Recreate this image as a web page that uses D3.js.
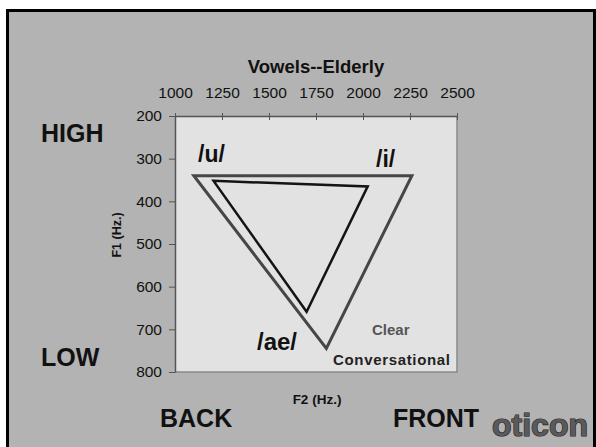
<!DOCTYPE html>
<html>
<head>
<meta charset="utf-8">
<script src="https://cdn.jsdelivr.net/npm/d3@7"></script>
<style>
  html, body { margin: 0; padding: 0; background: #fff; }
  svg { display: block; font-family: "Liberation Sans", Arial, sans-serif; }
</style>
</head>
<body>
<div id="chart"></div>
<script>
// --- data ---
const f2Ticks = [1000, 1250, 1500, 1750, 2000, 2250, 2500];
const f1Ticks = [200, 300, 400, 500, 600, 700, 800];
const vowels = ["/u/", "/i/", "/ae/"];
const clearF2 = [1100, 2260, 1805];
const clearF1 = [340, 340, 745];
const convF2 = [1205, 2025, 1700];
const convF1 = [352, 365, 659];
const seriesNames = ["Clear", "Conversational"];

document.addEventListener("DOMContentLoaded", () => {
  const W = 596, H = 447;
  const svg = d3.select("#chart").append("svg")
    .attr("width", W).attr("height", H);

  // slide frame
  svg.append("rect")
    .attr("x", 7.5).attr("y", 10.5)
    .attr("width", 587).attr("height", 450)
    .attr("fill", "#b3b3b3")
    .attr("stroke", "#000").attr("stroke-width", 3);

  const x = d3.scaleLinear().domain([1000, 2500]).range([175, 457]);
  const y = d3.scaleLinear().domain([200, 800]).range([116, 372]);

  // plot area
  svg.append("rect")
    .attr("x", x(1000)).attr("y", y(200))
    .attr("width", x(2500) - x(1000)).attr("height", y(800) - y(200))
    .attr("fill", "#e2e2e2");
  svg.append("path")
    .attr("d", `M${x(2500)},${y(200)}V${y(800)}H${x(1000)}`)
    .attr("fill", "none").attr("stroke", "#8a8a8a").attr("stroke-width", 1.5);

  // top axis (F2)
  const gx = svg.append("g")
    .attr("transform", `translate(0,${y(200)})`)
    .call(d3.axisTop(x).tickValues(f2Ticks).tickSizeOuter(0).tickFormat(d3.format("d")));
  gx.select(".domain").attr("stroke", "#555").attr("stroke-width", 1.5);
  gx.selectAll(".tick line").attr("y1", 4).attr("y2", -3).attr("stroke", "#555");
  gx.selectAll(".tick text")
    .attr("y", -18).attr("dy", 0)
    .attr("font-size", 15.5).attr("fill", "#111")
    .style("font-family", "'Liberation Sans', Arial, sans-serif");

  // left axis (F1)
  const gy = svg.append("g")
    .attr("transform", `translate(${x(1000)},0)`)
    .call(d3.axisLeft(y).tickValues(f1Ticks).tickSizeInner(6).tickSizeOuter(0).tickPadding(7));
  gy.select(".domain").attr("stroke", "#555").attr("stroke-width", 1.5);
  gy.selectAll(".tick line").attr("stroke", "#555");
  gy.selectAll(".tick text")
    .attr("font-size", 15.5).attr("fill", "#111")
    .style("font-family", "'Liberation Sans', Arial, sans-serif");

  // triangles
  const tri = (f2, f1) => f2.map((v, i) => [x(v), y(f1[i])]);
  const line = d3.line().curve(d3.curveLinearClosed);
  svg.append("path")
    .attr("d", line(tri(clearF2, clearF1)))
    .attr("fill", "none").attr("stroke", "#464646")
    .attr("stroke-width", 3).attr("stroke-linejoin", "miter");
  svg.append("path")
    .attr("d", line(tri(convF2, convF1)))
    .attr("fill", "none").attr("stroke", "#141414")
    .attr("stroke-width", 2.5).attr("stroke-linejoin", "miter");

  // vowel labels
  const vowelPos = [[198, 162], [376, 167], [257, 350]];
  svg.selectAll("text.vowel")
    .data(vowels)
    .enter().append("text")
    .attr("class", "vowel")
    .attr("x", (d, i) => vowelPos[i][0])
    .attr("y", (d, i) => vowelPos[i][1])
    .attr("font-size", (d, i) => (i === 2 ? 24 : 23))
    .attr("font-weight", "bold").attr("fill", "#111")
    .text(d => d);

  // series labels
  svg.append("text")
    .attr("x", 372).attr("y", 335)
    .attr("font-size", 15).attr("font-weight", "bold").attr("fill", "#555")
    .text(seriesNames[0]);
  svg.append("text")
    .attr("x", 333).attr("y", 365)
    .attr("font-size", 15).attr("font-weight", "bold").attr("fill", "#222")
    .attr("textLength", 117)
    .text(seriesNames[1]);

  // title and axis titles
  svg.append("text")
    .attr("x", 316).attr("y", 73)
    .attr("text-anchor", "middle")
    .attr("font-size", 18.5).attr("font-weight", "bold").attr("fill", "#111")
    .text("Vowels--Elderly");
  svg.append("text")
    .attr("x", 317).attr("y", 404)
    .attr("text-anchor", "middle")
    .attr("font-size", 13.5).attr("font-weight", "bold").attr("fill", "#111")
    .text("F2 (Hz.)");
  svg.append("text")
    .attr("transform", "translate(121,235) rotate(-90)")
    .attr("text-anchor", "middle")
    .attr("font-size", 12.5).attr("font-weight", "bold").attr("fill", "#111")
    .text("F1 (Hz.)");

  // side captions
  const caps = [
    ["HIGH", 41, 142], ["LOW", 41, 366], ["BACK", 160, 427], ["FRONT", 393, 427]
  ];
  svg.selectAll("text.cap")
    .data(caps)
    .enter().append("text")
    .attr("class", "cap")
    .attr("x", d => d[1]).attr("y", d => d[2])
    .attr("font-size", 25).attr("font-weight", "bold").attr("fill", "#111")
    .text(d => d[0]);

  // logo
  svg.append("text")
    .attr("x", 492).attr("y", 436)
    .attr("font-size", 31).attr("font-weight", "bold")
    .attr("fill", "#5a5a5a").attr("stroke", "#1e1e1e").attr("stroke-width", 1.2)
    .attr("textLength", 96).attr("lengthAdjust", "spacingAndGlyphs")
    .style("paint-order", "stroke")
    .text("oticon");
});
</script>
</body>
</html>
